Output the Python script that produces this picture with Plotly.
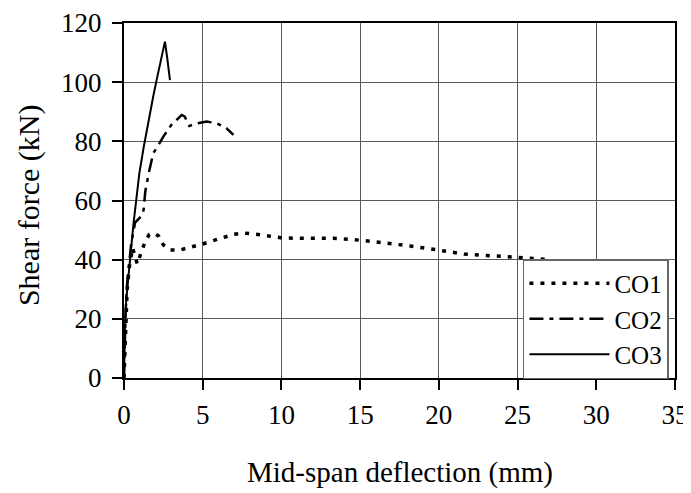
import plotly.graph_objects as go

# CO1 (dotted)
co1_x = [0, 0.05, 0.1, 0.2, 0.35, 0.55, 0.7, 0.85, 1.0, 1.3, 1.6, 1.9, 2.2, 2.5, 2.9, 3.5, 4.2, 5.0,
         6.0, 7.0, 7.6, 8.5, 10.1, 11.5, 13.3, 15.2, 16.7, 18.2, 19.9, 21.6, 23.7, 25.5, 26.9, 27.7, 28.1]
co1_y = [0, 10, 20, 30, 38, 44, 41, 38.5, 41, 45.5, 48.5, 49, 48, 45, 43.3, 43.2, 44.2, 45.3,
         47, 48.6, 49, 48.5, 47.3, 47.2, 47.2, 46.5, 45.6, 44.6, 43.3, 41.9, 41.2, 40.6, 40.1, 38.8, 38.3]

# CO2 (dash-dot)
co2_x = [0, 0.05, 0.1, 0.2, 0.3, 0.45, 0.7, 0.95, 1.15, 1.25, 1.35, 1.6, 1.86, 2.07, 2.5, 3.0, 3.35,
         3.66, 3.85, 4.15, 4.6, 5.25, 5.9, 6.5, 6.95]
co2_y = [0, 12, 22, 32, 38, 45, 52.5, 54, 55, 57, 63, 70, 76, 77.7, 81.6, 85.5, 87.2,
         88.9, 88.4, 85.2, 86, 86.7, 86.1, 84.5, 82.2]

# CO3 (solid)
co3_x = [0, 0.03, 0.08, 0.15, 0.21, 0.3, 0.42, 0.6, 0.8, 0.97, 1.25, 1.55, 1.85, 2.07, 2.35, 2.6, 2.75, 2.92]
co3_y = [0, 10, 20, 27, 31, 37, 42, 52, 62, 69, 78, 87, 95, 100.7, 107, 113.7, 108, 100.7]

x_ticks = [0, 5, 10, 15, 20, 25, 30, 35]
y_ticks = [0, 20, 40, 60, 80, 100, 120]

x_title = "Mid-span deflection (mm)"
y_title = "Shear force (kN)"

FONT = "Liberation Serif, Times New Roman, serif"

fig = go.Figure()
fig.add_trace(go.Scatter(x=co1_x, y=co1_y, mode="lines", name="CO1",
                         line=dict(color="black", width=3.5, dash="4px,7px")))
fig.add_trace(go.Scatter(x=co2_x, y=co2_y, mode="lines", name="CO2",
                         line=dict(color="black", width=2.5, dash="14px,6px,4px,6px")))
fig.add_trace(go.Scatter(x=co3_x, y=co3_y, mode="lines", name="CO3",
                         line=dict(color="black", width=2)))

axis_common = dict(
    showline=True, linecolor="black", linewidth=2, mirror=True,
    showgrid=True, gridcolor="#5a5a5a", gridwidth=1.2,
    zeroline=False, ticks="outside", ticklen=10, tickwidth=1.5, tickcolor="black",
    tickfont=dict(family=FONT, size=27, color="black"),
    automargin=False,
)

# page body has an 8px default margin, so the figure is sized to fit the window
fig.update_layout(
    width=683, height=485,
    margin=dict(l=116, r=16, t=15, b=115),
    paper_bgcolor="white", plot_bgcolor="white",
    font=dict(family=FONT, color="black"),
    xaxis=dict(range=[0, 35], tickvals=x_ticks, ticktext=[str(v) for v in x_ticks],
               ticklabelstandoff=2, **axis_common),
    yaxis=dict(range=[0, 120], tickvals=y_ticks, ticktext=[str(v) for v in y_ticks],
               ticklabelstandoff=5, **axis_common),
    legend=dict(x=0.724, y=0.335, xanchor="left", yanchor="top",
                bgcolor="white", bordercolor="#666666", borderwidth=1.5,
                font=dict(family=FONT, size=25, color="black"),
                itemwidth=80, tracegroupgap=0),
    showlegend=True,
    annotations=[
        dict(text=x_title, xref="paper", yref="paper", x=0.5, y=-0.265,
             xanchor="center", yanchor="middle", showarrow=False,
             font=dict(family=FONT, size=29, color="black")),
        dict(text=y_title, xref="paper", yref="paper", x=-0.1724, y=0.487,
             xanchor="center", yanchor="middle", showarrow=False, textangle=-90,
             font=dict(family=FONT, size=30, color="black")),
    ],
)

fig.write_html("out.html")
